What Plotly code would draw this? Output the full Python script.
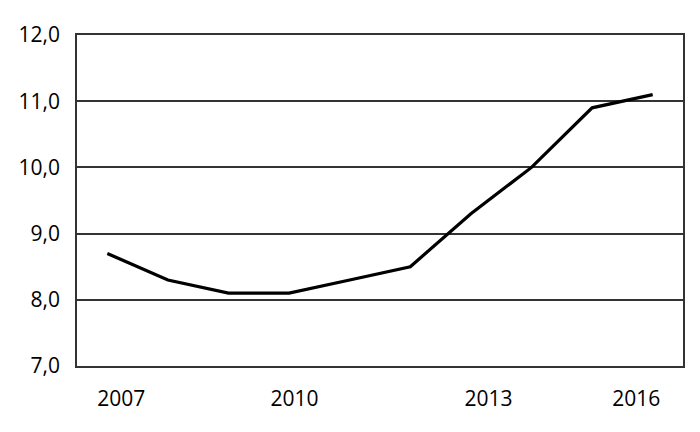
import plotly.graph_objects as go

years = [2007, 2008, 2009, 2010, 2011, 2012, 2013, 2014, 2015, 2016]
values = [8.7, 8.3, 8.1, 8.1, 8.3, 8.5, 9.3, 10.0, 10.9, 11.1]

x_tick_labels = ["2007", "2010", "2013", "2016"]
x_tick_years = [2007, 2010, 2013, 2016]
# label placement nudges (in years) to mimic the original's label positions
x_label_nudge = [0.23, 0.09, 0.29, -0.27]

y_ticks = [7, 8, 9, 10, 11, 12]

fig = go.Figure()
fig.add_trace(go.Scatter(
    x=years, y=values, mode="lines",
    line=dict(color="#000000", width=3.2),
    showlegend=False, hoverinfo="skip",
))

font_family = "Open Sans, Lato, Noto Sans, sans-serif"

fig.update_layout(
    width=692, height=424,
    margin=dict(l=69, r=17, t=27, b=66),
    paper_bgcolor="white", plot_bgcolor="white",
    separators=", ",
    font=dict(family=font_family, size=21, color="#000000"),
    xaxis=dict(
        range=[2006.5, 2016.5],
        tickvals=[y + n for y, n in zip(x_tick_years, x_label_nudge)],
        ticktext=x_tick_labels,
        showgrid=False, zeroline=False,
        showline=True, linecolor="#333333", linewidth=1.5, mirror=True,
        ticks="", ticklabelstandoff=13,
        tickfont=dict(size=21),
    ),
    yaxis=dict(
        range=[7, 12],
        tickvals=y_ticks,
        tickformat=".1f",
        showgrid=True, gridcolor="#333333", gridwidth=1.5,
        zeroline=False,
        showline=True, linecolor="#333333", linewidth=1.5, mirror=True,
        ticks="", ticklabelstandoff=11,
        tickfont=dict(size=21),
    ),
)

fig.write_html("out.html")
